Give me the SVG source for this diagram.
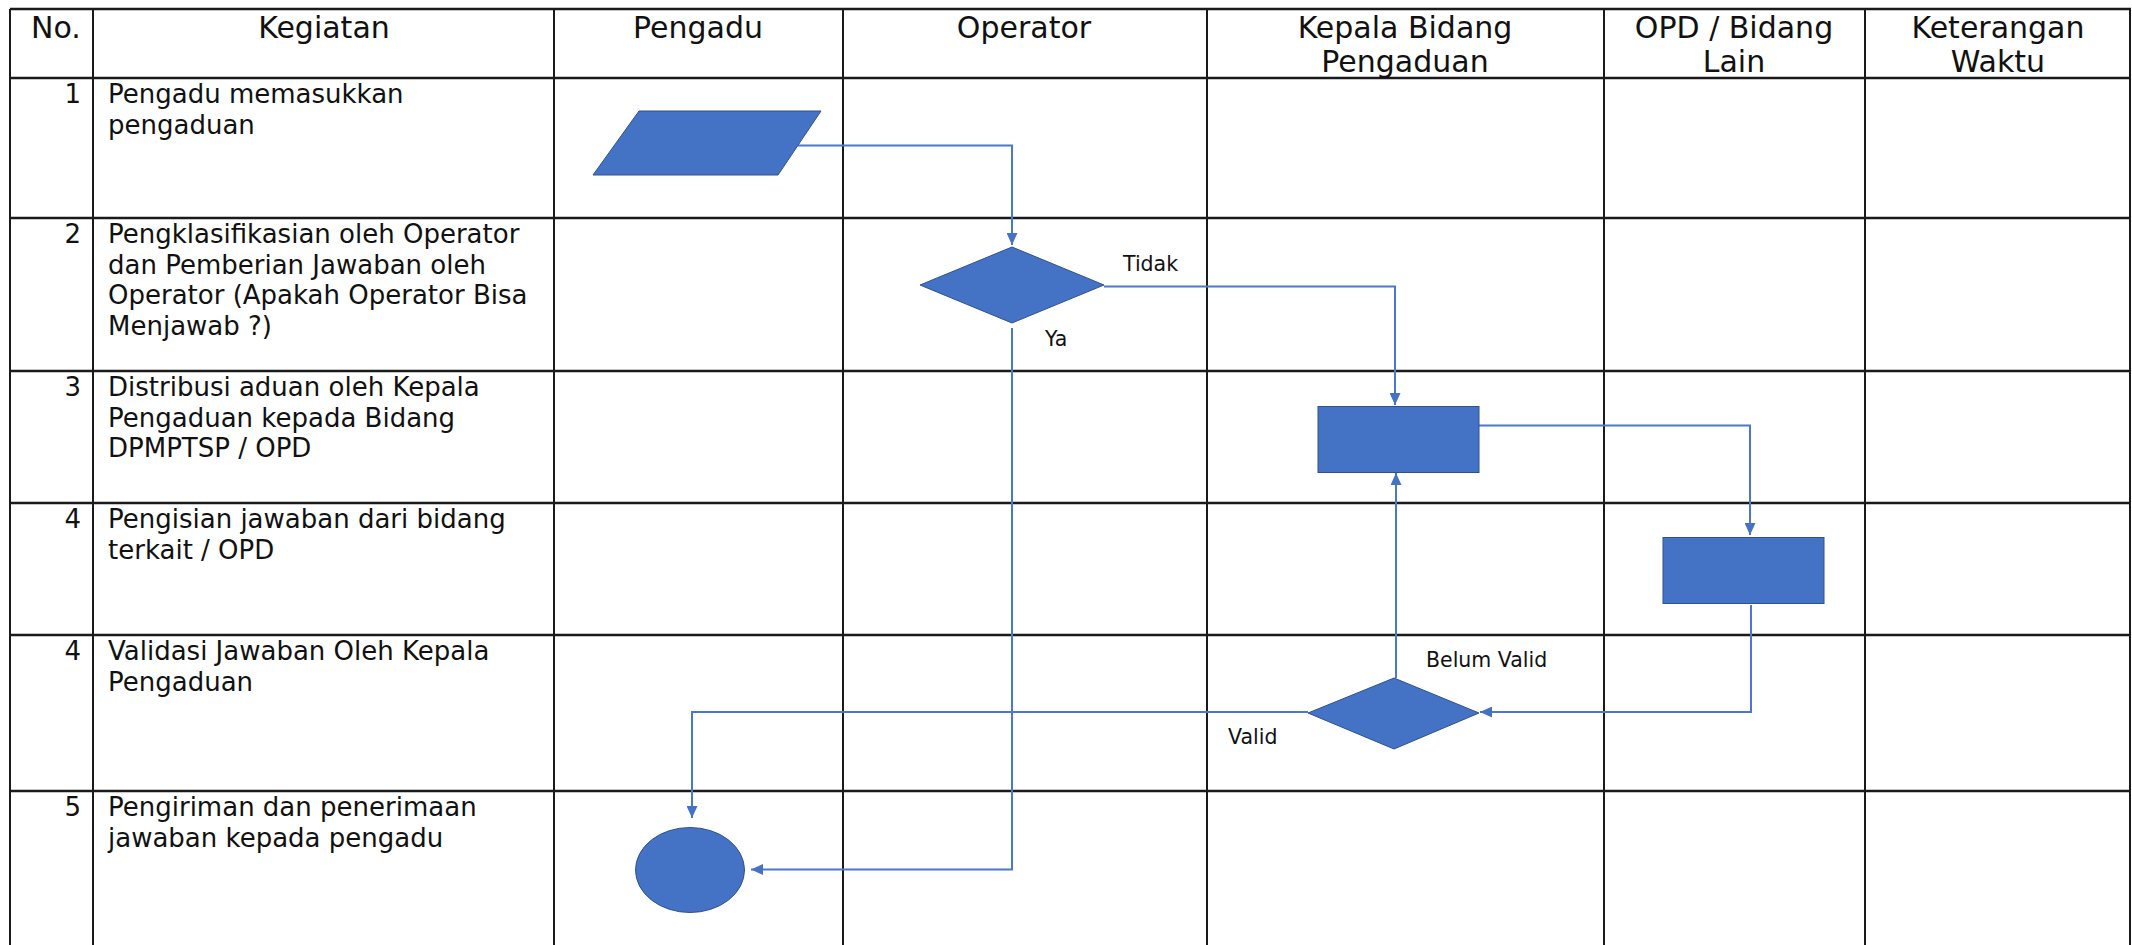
<svg xmlns="http://www.w3.org/2000/svg" width="2132" height="945" viewBox="0 0 2132 945">
<style>
.grid line{stroke:#1a1a1a;stroke-width:2}
.grid .h{stroke-width:2.5}
.hd{font-family:"DejaVu Sans",Verdana,sans-serif;font-size:30px;fill:#111;text-anchor:middle}
.tx{font-family:"DejaVu Sans",Verdana,sans-serif;font-size:26px;fill:#111}
.num{font-family:"DejaVu Sans",Verdana,sans-serif;font-size:26px;fill:#111;text-anchor:end}
.lbl{font-family:"DejaVu Sans",Verdana,sans-serif;font-size:20.5px;fill:#111}
.shape{fill:#4472C4;stroke:#2F528F;stroke-width:1}
.conn{fill:none;stroke:#4A78CC;stroke-width:2}
</style>
<defs>
<marker id="arr" markerUnits="userSpaceOnUse" viewBox="0 0 12 11" refX="12" refY="5.5" markerWidth="12" markerHeight="11" orient="auto">
<path d="M0,0 L12,5.5 L0,11 z" fill="#4472C4"/>
</marker>
</defs>
<rect width="2132" height="945" fill="#fff"/>
<g id="table" class="grid">
<line class="h" x1="10" y1="9" x2="2131" y2="9"/>
<line class="h" x1="10" y1="78" x2="2131" y2="78"/>
<line class="h" x1="10" y1="218" x2="2131" y2="218"/>
<line class="h" x1="10" y1="371" x2="2131" y2="371"/>
<line class="h" x1="10" y1="503" x2="2131" y2="503"/>
<line class="h" x1="10" y1="635" x2="2131" y2="635"/>
<line class="h" x1="10" y1="791" x2="2131" y2="791"/>
<line x1="10" y1="9" x2="10" y2="945"/>
<line x1="93" y1="9" x2="93" y2="945"/>
<line x1="554" y1="9" x2="554" y2="945"/>
<line x1="843" y1="9" x2="843" y2="945"/>
<line x1="1207" y1="9" x2="1207" y2="945"/>
<line x1="1604" y1="9" x2="1604" y2="945"/>
<line x1="1865" y1="9" x2="1865" y2="945"/>
<line x1="2130" y1="9" x2="2130" y2="945"/>
</g>
<g id="header">
<text class="hd" x="56" y="38">No.</text>
<text class="hd" x="324" y="38">Kegiatan</text>
<text class="hd" x="698" y="38">Pengadu</text>
<text class="hd" x="1024" y="38">Operator</text>
<text class="hd" x="1405" y="38">Kepala Bidang</text>
<text class="hd" x="1405" y="72">Pengaduan</text>
<text class="hd" x="1734" y="38">OPD / Bidang</text>
<text class="hd" x="1734" y="72">Lain</text>
<text class="hd" x="1998" y="38">Keterangan</text>
<text class="hd" x="1998" y="72">Waktu</text>
</g>
<g id="rows">
<text class="num" x="81" y="103">1</text>
<text class="tx" x="108" y="103">Pengadu memasukkan</text>
<text class="tx" x="108" y="134">pengaduan</text>
<text class="num" x="81" y="243">2</text>
<text class="tx" x="108" y="243">Pengklasifikasian oleh Operator</text>
<text class="tx" x="108" y="273.5">dan Pemberian Jawaban oleh</text>
<text class="tx" x="108" y="304">Operator (Apakah Operator Bisa</text>
<text class="tx" x="108" y="334.5">Menjawab ?)</text>
<text class="num" x="81" y="396">3</text>
<text class="tx" x="108" y="396">Distribusi aduan oleh Kepala</text>
<text class="tx" x="108" y="426.5">Pengaduan kepada Bidang</text>
<text class="tx" x="108" y="457">DPMPTSP / OPD</text>
<text class="num" x="81" y="528">4</text>
<text class="tx" x="108" y="528">Pengisian jawaban dari bidang</text>
<text class="tx" x="108" y="558.5">terkait / OPD</text>
<text class="num" x="81" y="660">4</text>
<text class="tx" x="108" y="660">Validasi Jawaban Oleh Kepala</text>
<text class="tx" x="108" y="690.5">Pengaduan</text>
<text class="num" x="81" y="816">5</text>
<text class="tx" x="108" y="816">Pengiriman dan penerimaan</text>
<text class="tx" x="108" y="846.5">jawaban kepada pengadu</text>
</g>
<g id="connectors">
<polyline class="conn" points="798,145.5 1012,145.5 1012,245" marker-end="url(#arr)"/>
<polyline class="conn" points="1104,286.5 1395,286.5 1395,405" marker-end="url(#arr)"/>
<polyline class="conn" points="1479,425.5 1750,425.5 1750,535" marker-end="url(#arr)"/>
<polyline class="conn" points="1751,605 1751,712 1480,712" marker-end="url(#arr)"/>
<polyline class="conn" points="1396,678 1396,473" marker-end="url(#arr)"/>
<polyline class="conn" points="1308,712 692,712 692,818" marker-end="url(#arr)"/>
<polyline class="conn" points="1012,328 1012,869.5 751,869.5" marker-end="url(#arr)"/>
<text class="lbl" x="1123" y="270.5">Tidak</text>
<text class="lbl" x="1045" y="346">Ya</text>
<text class="lbl" x="1426" y="666.5">Belum Valid</text>
<text class="lbl" x="1228" y="744">Valid</text>
</g>
<g id="n1-input"><polygon class="shape" points="639,111 821,111 778,175 593,175"/></g>
<g id="n2-decision"><polygon class="shape" points="1012,247 1104,285 1012,323 920,285"/></g>
<g id="n3-process"><rect class="shape" x="1318" y="406.5" width="161" height="66"/></g>
<g id="n4-process"><rect class="shape" x="1663" y="537.5" width="161" height="66"/></g>
<g id="n5-decision"><polygon class="shape" points="1394,678 1479,713 1394,749 1308,713"/></g>
<g id="n6-end"><ellipse class="shape" cx="690" cy="870" rx="54.5" ry="42.5"/></g>
</svg>
